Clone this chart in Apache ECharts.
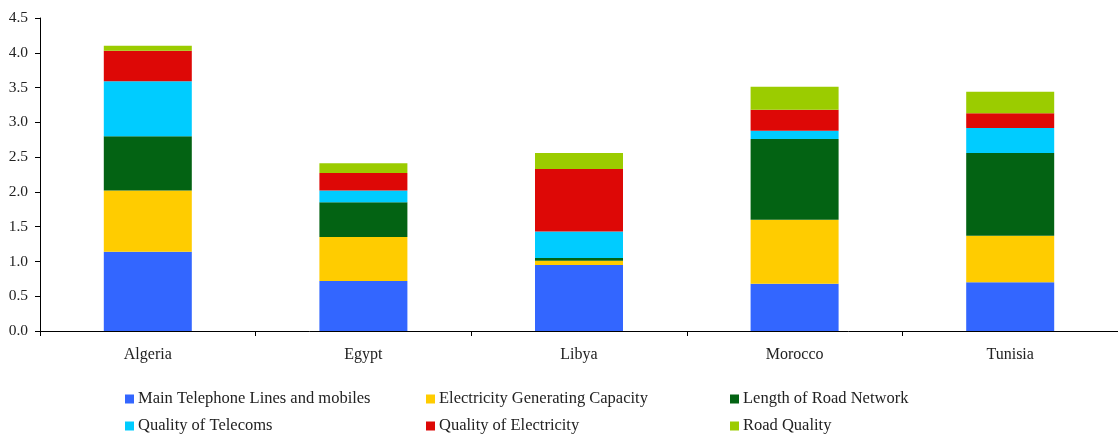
<!DOCTYPE html>
<html>
<head>
<meta charset="utf-8">
<script src="https://cdn.jsdelivr.net/npm/echarts@6/dist/echarts.min.js"></script>
<style>
  html, body { margin: 0; padding: 0; background: #fff; }
  #chart { width: 1118px; height: 437px; }
</style>
</head>
<body>
<div id="chart"></div>
<script>
// Infrastructure index components by country (stacked)
const countries = ['Algeria', 'Egypt', 'Libya', 'Morocco', 'Tunisia'];

const mainTelephone   = [1.14, 0.72, 0.95, 0.68, 0.70];
const elecCapacity    = [0.88, 0.63, 0.06, 0.92, 0.67];
const roadLength      = [0.78, 0.50, 0.04, 1.16, 1.19];
const telecomQuality  = [0.79, 0.17, 0.38, 0.12, 0.36];
const elecQuality     = [0.44, 0.25, 0.90, 0.30, 0.21];
const roadQuality     = [0.07, 0.14, 0.23, 0.33, 0.31];

const seriesNames = [
  'Main Telephone Lines and mobiles',
  'Electricity Generating Capacity',
  'Length of Road Network',
  'Quality of Telecoms',
  'Quality of Electricity',
  'Road Quality'
];
const seriesValues = [mainTelephone, elecCapacity, roadLength, telecomQuality, elecQuality, roadQuality];
const seriesColors = ['#3366FF', '#FFCC00', '#036313', '#00CCFF', '#DD0806', '#9BCC00'];

const yTicks = { min: 0, max: 4.5, step: 0.5 };

const FONT = '"Liberation Serif", "DejaVu Serif", serif';

const chart = echarts.init(document.getElementById('chart'), null, { renderer: 'canvas' });

// Legend laid out as three columns of two entries each
function legendColumn(names, left) {
  return {
    orient: 'vertical',
    left: left,
    top: 390,
    itemWidth: 9,
    itemHeight: 9,
    itemGap: 9,
    icon: 'rect',
    padding: 0,
    data: names,
    textStyle: { fontFamily: FONT, fontSize: 16.5, color: '#222', lineHeight: 18, padding: [0, 0, 0, -1] }
  };
}

chart.setOption({
  animation: false,
  backgroundColor: '#fff',
  textStyle: { fontFamily: FONT },
  grid: { left: 40, right: -5, top: 18, bottom: 106, containLabel: false },
  legend: [
    legendColumn([seriesNames[0], seriesNames[3]], 125),
    legendColumn([seriesNames[1], seriesNames[4]], 426),
    legendColumn([seriesNames[2], seriesNames[5]], 730)
  ],
  xAxis: {
    type: 'category',
    data: countries,
    axisLine: { show: true, lineStyle: { color: '#000', width: 1 } },
    axisTick: { show: true, length: 5, alignWithLabel: false, lineStyle: { color: '#000' } },
    axisLabel: { fontFamily: FONT, fontSize: 16, color: '#222', margin: 16 },
    splitLine: { show: false }
  },
  yAxis: {
    type: 'value',
    min: yTicks.min,
    max: yTicks.max,
    interval: yTicks.step,
    axisLine: { show: true, lineStyle: { color: '#000', width: 1 } },
    axisTick: { show: true, length: 5, lineStyle: { color: '#000' } },
    axisLabel: {
      fontFamily: FONT, fontSize: 15.5, color: '#222', margin: 12,
      formatter: v => v.toFixed(1)
    },
    splitLine: { show: false }
  },
  series: seriesNames.map((name, i) => ({
    name: name,
    type: 'bar',
    stack: 'total',
    barWidth: 88,
    data: seriesValues[i],
    itemStyle: { color: seriesColors[i] },
    emphasis: { disabled: true }
  }))
});
</script>
</body>
</html>
